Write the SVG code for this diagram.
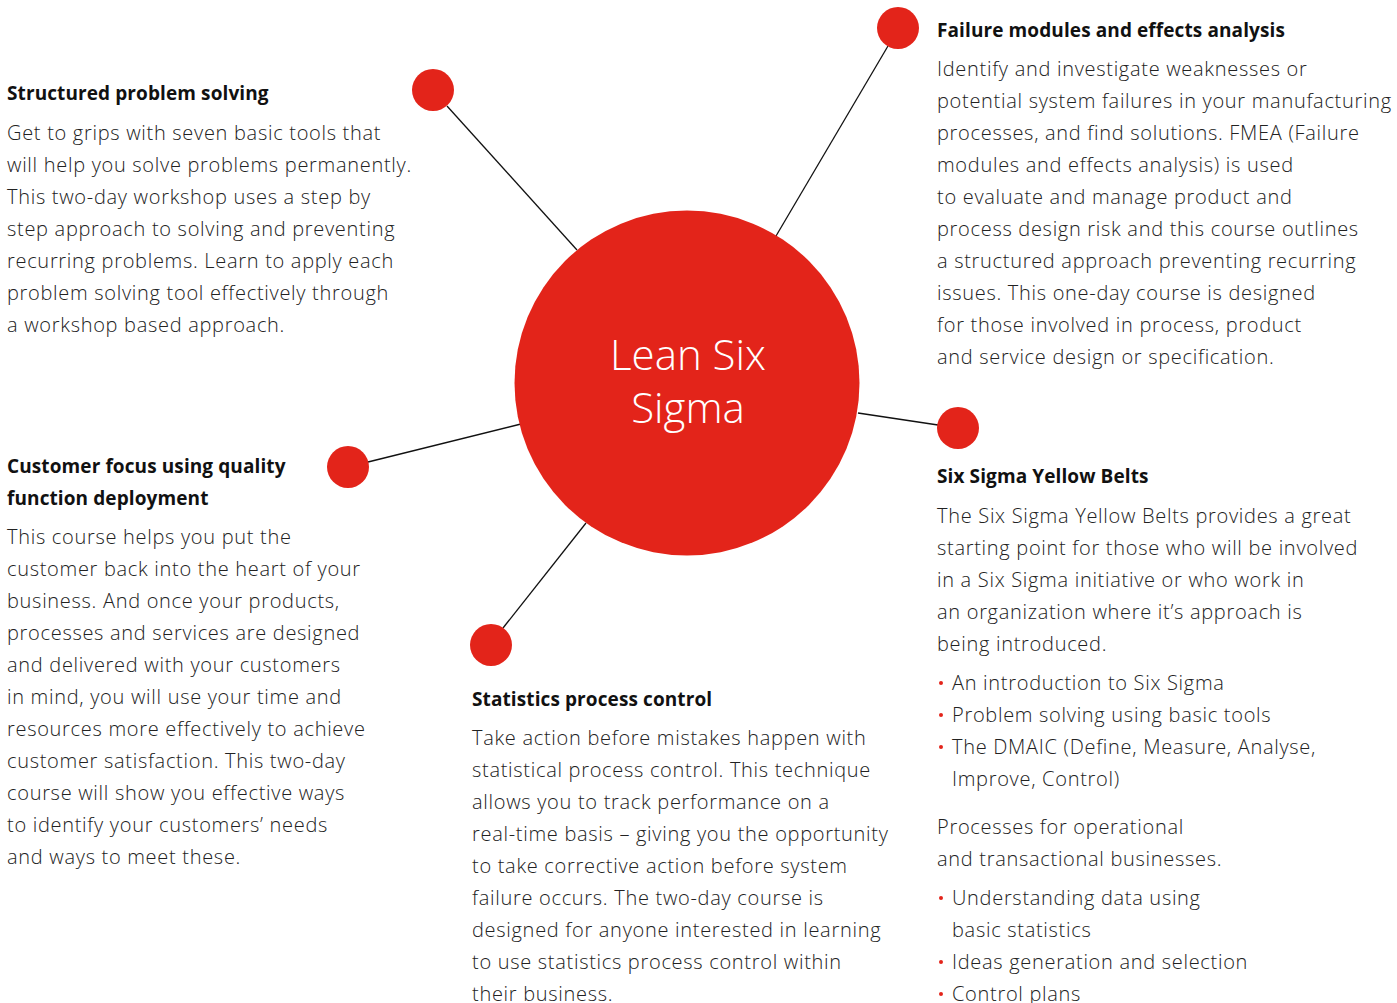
<svg xmlns="http://www.w3.org/2000/svg" width="1397" height="1003" viewBox="0 0 1397 1003">
<style>
.h{font-family:"Open Sans","Liberation Sans",sans-serif;font-weight:700;font-size:19px;letter-spacing:0.1px;fill:#111}
.b{font-family:"Open Sans","Liberation Sans",sans-serif;font-weight:300;font-size:20px;letter-spacing:0.7px;fill:#222}
.dot{fill:#E3241A}
.c{stroke:#111;stroke-width:1.3}
.bul{fill:#E3241A}
</style>
<rect width="1397" height="1003" fill="#fff"/>
<g id="connectors" class="c">
<line x1="447" y1="106" x2="577" y2="250"/>
<line x1="888" y1="46" x2="776" y2="236"/>
<line x1="938" y1="425" x2="858" y2="413"/>
<line x1="368" y1="462" x2="521" y2="424"/>
<line x1="503" y1="628" x2="586" y2="523"/>
</g>
<g id="center">
<circle cx="687" cy="383" r="172.5" fill="#E3241A"/>
<text x="688" y="370" text-anchor="middle" font-family="Open Sans, Liberation Sans, sans-serif" font-weight="300" font-size="42" fill="#fff">Lean Six</text>
<text x="688" y="423" text-anchor="middle" font-family="Open Sans, Liberation Sans, sans-serif" font-weight="300" font-size="42" fill="#fff">Sigma</text>
</g>
<g id="structured-problem-solving">
<circle class="dot" cx="433" cy="90" r="21"/>
<text class="h" x="7" y="100">Structured problem solving</text>
<text class="b" x="7" y="140">Get to grips with seven basic tools that</text>
<text class="b" x="7" y="172">will help you solve problems permanently.</text>
<text class="b" x="7" y="204">This two-day workshop uses a step by</text>
<text class="b" x="7" y="236">step approach to solving and preventing</text>
<text class="b" x="7" y="268">recurring problems. Learn to apply each</text>
<text class="b" x="7" y="300">problem solving tool effectively through</text>
<text class="b" x="7" y="332">a workshop based approach.</text>
</g>
<g id="fmea">
<circle class="dot" cx="898" cy="28" r="21"/>
<text class="h" x="937" y="37">Failure modules and effects analysis</text>
<text class="b" x="937" y="76">Identify and investigate weaknesses or</text>
<text class="b" x="937" y="108">potential system failures in your manufacturing</text>
<text class="b" x="937" y="140">processes, and find solutions. FMEA (Failure</text>
<text class="b" x="937" y="172">modules and effects analysis) is used</text>
<text class="b" x="937" y="204">to evaluate and manage product and</text>
<text class="b" x="937" y="236">process design risk and this course outlines</text>
<text class="b" x="937" y="268">a structured approach preventing recurring</text>
<text class="b" x="937" y="300">issues. This one-day course is designed</text>
<text class="b" x="937" y="332">for those involved in process, product</text>
<text class="b" x="937" y="364">and service design or specification.</text>
</g>
<g id="customer-focus">
<circle class="dot" cx="348" cy="467" r="21"/>
<text class="h" x="7" y="473">Customer focus using quality</text>
<text class="h" x="7" y="505">function deployment</text>
<text class="b" x="7" y="544">This course helps you put the</text>
<text class="b" x="7" y="576">customer back into the heart of your</text>
<text class="b" x="7" y="608">business. And once your products,</text>
<text class="b" x="7" y="640">processes and services are designed</text>
<text class="b" x="7" y="672">and delivered with your customers</text>
<text class="b" x="7" y="704">in mind, you will use your time and</text>
<text class="b" x="7" y="736">resources more effectively to achieve</text>
<text class="b" x="7" y="768">customer satisfaction. This two-day</text>
<text class="b" x="7" y="800">course will show you effective ways</text>
<text class="b" x="7" y="832">to identify your customers’ needs</text>
<text class="b" x="7" y="864">and ways to meet these.</text>
</g>
<g id="statistics-process-control">
<circle class="dot" cx="491" cy="645" r="21"/>
<text class="h" x="472" y="706">Statistics process control</text>
<text class="b" x="472" y="745">Take action before mistakes happen with</text>
<text class="b" x="472" y="777">statistical process control. This technique</text>
<text class="b" x="472" y="809">allows you to track performance on a</text>
<text class="b" x="472" y="841">real-time basis – giving you the opportunity</text>
<text class="b" x="472" y="873">to take corrective action before system</text>
<text class="b" x="472" y="905">failure occurs. The two-day course is</text>
<text class="b" x="472" y="937">designed for anyone interested in learning</text>
<text class="b" x="472" y="969">to use statistics process control within</text>
<text class="b" x="472" y="1001">their business.</text>
</g>
<g id="six-sigma-yellow-belts">
<circle class="dot" cx="958" cy="428" r="21"/>
<text class="h" x="937" y="483">Six Sigma Yellow Belts</text>
<text class="b" x="937" y="523">The Six Sigma Yellow Belts provides a great</text>
<text class="b" x="937" y="555">starting point for those who will be involved</text>
<text class="b" x="937" y="587">in a Six Sigma initiative or who work in</text>
<text class="b" x="937" y="619">an organization where it’s approach is</text>
<text class="b" x="937" y="651">being introduced.</text>
<circle class="bul" cx="941" cy="683" r="2"/>
<text class="b" x="952" y="690">An introduction to Six Sigma</text>
<circle class="bul" cx="941" cy="715" r="2"/>
<text class="b" x="952" y="722">Problem solving using basic tools</text>
<circle class="bul" cx="941" cy="747" r="2"/>
<text class="b" x="952" y="754">The DMAIC (Define, Measure, Analyse,</text>
<text class="b" x="952" y="786">Improve, Control)</text>
<text class="b" x="937" y="834">Processes for operational</text>
<text class="b" x="937" y="866">and transactional businesses.</text>
<circle class="bul" cx="941" cy="898" r="2"/>
<text class="b" x="952" y="905">Understanding data using</text>
<text class="b" x="952" y="937">basic statistics</text>
<circle class="bul" cx="941" cy="962" r="2"/>
<text class="b" x="952" y="969">Ideas generation and selection</text>
<circle class="bul" cx="941" cy="994" r="2"/>
<text class="b" x="952" y="1001">Control plans</text>
</g>
</svg>
